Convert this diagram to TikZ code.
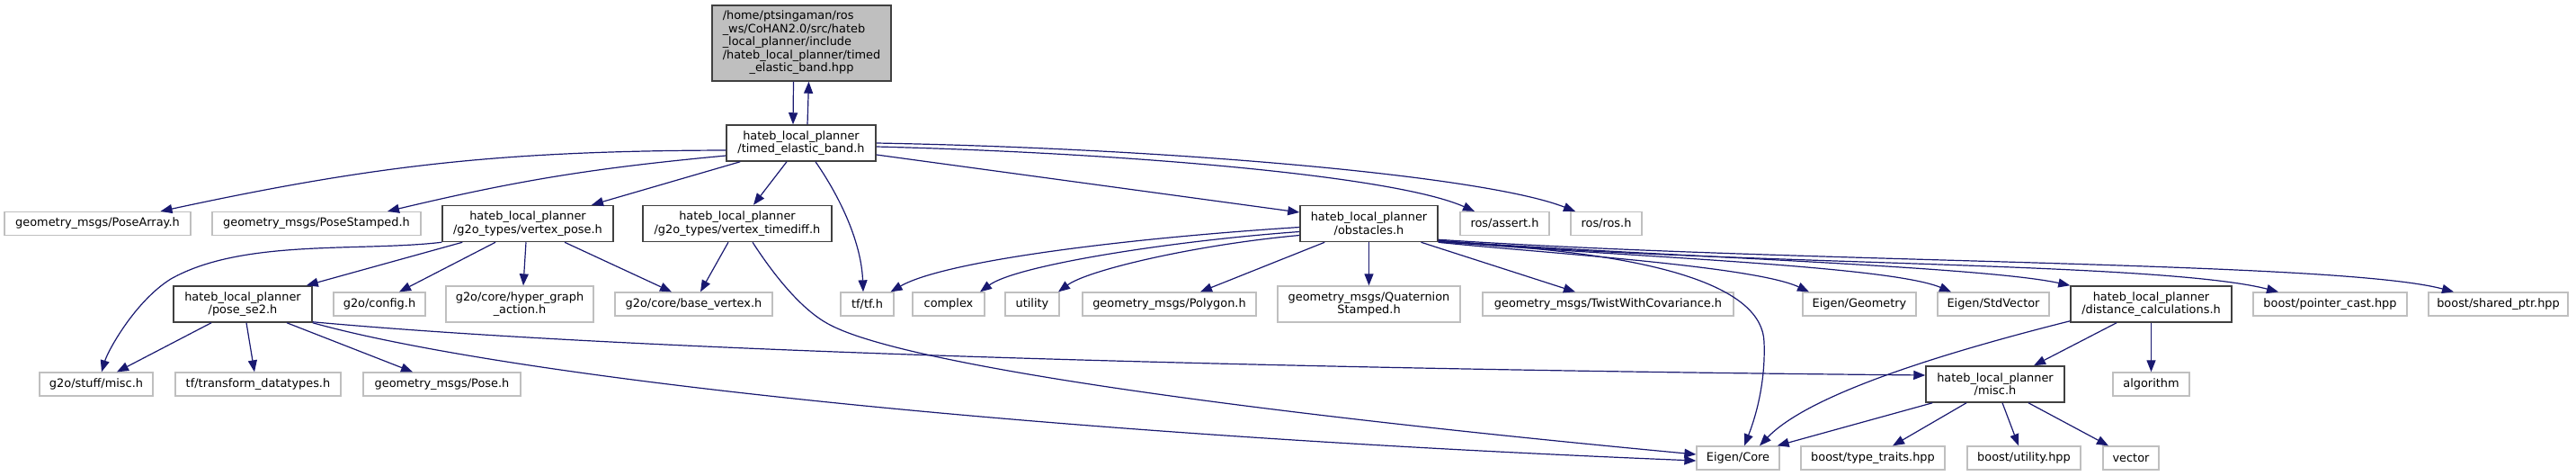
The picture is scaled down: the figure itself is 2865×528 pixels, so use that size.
\documentclass[tikz,border=0pt]{standalone}
\usepackage{fontspec}
\setmainfont{DejaVu Sans}
\usetikzlibrary{arrows.meta}

\definecolor{boxgray}{HTML}{BFBFBF}
\definecolor{boxdark}{HTML}{404040}
\definecolor{edgeblue}{HTML}{191970}

\begin{document}
\begin{tikzpicture}[x=1pt, y=-1pt,
  font=\fontsize{12.9}{14.5}\selectfont,
  extfile/.style={draw=boxgray, line width=1.3pt, rectangle, inner sep=0pt, align=center, minimum height=26pt},
  ownfile/.style={draw=boxdark, line width=1.5pt, rectangle, inner sep=0pt, align=center, minimum height=40pt},
  rootfile/.style={ownfile, fill=boxgray},
  dep/.style={draw=edgeblue, line width=1.2pt, -{Triangle[length=13pt, width=10pt]}}]

\useasboundingbox (0,0) rectangle (2865,528);

% ranks 0 and 1
\node[rootfile, minimum width=199pt, minimum height=84pt] (top) at (891.5,48) {\begin{tabular}{@{}l@{}}/home/ptsingaman/ros\\\_ws/CoHAN2.0/src/hateb\\\_local\_planner/include\\/hateb\_local\_planner/timed\\\multicolumn{1}{@{}c@{}}{\_elastic\_band.hpp}\end{tabular}};
\node[ownfile, minimum width=166pt] (tel) at (891,159) {hateb\_local\_planner\\/timed\_elastic\_band.h};

% rank 2
\node[extfile, minimum width=207pt] (posearray) at (108.5,248.5) {geometry\_msgs/PoseArray.h};
\node[extfile, minimum width=232pt] (posestamped) at (352,248.5) {geometry\_msgs/PoseStamped.h};
\node[ownfile, minimum width=190pt] (vpose) at (587,248.5) {hateb\_local\_planner\\/g2o\_types/vertex\_pose.h};
\node[ownfile, minimum width=210pt] (vtimediff) at (820,248.5) {hateb\_local\_planner\\/g2o\_types/vertex\_timediff.h};
\node[ownfile, minimum width=153pt] (obst) at (1522.5,248.5) {hateb\_local\_planner\\/obstacles.h};
\node[extfile, minimum width=99pt] (rosassert) at (1673.5,248.5) {ros/assert.h};
\node[extfile, minimum width=79pt] (rosros) at (1786.5,248.5) {ros/ros.h};

% rank 3
\node[ownfile, minimum width=154pt] (posese) at (270,338) {hateb\_local\_planner\\/pose\_se2.h};
\node[extfile, minimum width=102pt] (config) at (422,338) {g2o/config.h};
\node[extfile, minimum width=164pt, minimum height=40pt] (hyper) at (578,338) {g2o/core/hyper\_graph\\\_action.h};
\node[extfile, minimum width=175pt] (basevertex) at (771.5,338) {g2o/core/base\_vertex.h};
\node[extfile, minimum width=59pt] (tftf) at (964.5,338) {tf/tf.h};
\node[extfile, minimum width=80pt] (complex) at (1055,338) {complex};
\node[extfile, minimum width=60pt] (utility) at (1148,338) {utility};
\node[extfile, minimum width=193pt] (polygon) at (1300.5,338) {geometry\_msgs/Polygon.h};
\node[extfile, minimum width=203pt, minimum height=40pt] (quat) at (1522.5,338) {geometry\_msgs/Quaternion\\Stamped.h};
\node[extfile, minimum width=279pt] (twist) at (1788.5,338) {geometry\_msgs/TwistWithCovariance.h};
\node[extfile, minimum width=126pt] (geometry) at (2068,338) {Eigen/Geometry};
\node[extfile, minimum width=124pt] (stdvector) at (2217,338) {Eigen/StdVector};
\node[ownfile, minimum width=179pt] (distcalc) at (2392.5,338) {hateb\_local\_planner\\/distance\_calculations.h};
\node[extfile, minimum width=171pt] (pointercast) at (2591.5,338) {boost/pointer\_cast.hpp};
\node[extfile, minimum width=155pt] (sharedptr) at (2778.5,338) {boost/shared\_ptr.hpp};

% rank 4
\node[extfile, minimum width=126pt] (gmisc) at (107,427) {g2o/stuff/misc.h};
\node[extfile, minimum width=184pt] (transform) at (287,427) {tf/transform\_datatypes.h};
\node[extfile, minimum width=175pt] (pose) at (491.5,427) {geometry\_msgs/Pose.h};
\node[ownfile, minimum width=154pt] (misc) at (2219,427) {hateb\_local\_planner\\/misc.h};
\node[extfile, minimum width=85pt] (algorithm) at (2392.5,427) {algorithm};

% rank 5
\node[extfile, minimum width=92pt] (eigencore) at (1933,509) {Eigen/Core};
\node[extfile, minimum width=160pt] (typetraits) at (2083,509) {boost/type\_traits.hpp};
\node[extfile, minimum width=126pt] (utilityhpp) at (2251,509) {boost/utility.hpp};
\node[extfile, minimum width=62pt] (vector) at (2370,509) {vector};

% timed_elastic_band
\draw[dep] ([xshift=-9pt]top.south) -- ([xshift=-9pt]tel.north);
\draw[dep] ([xshift=7pt]tel.north) -- ([xshift=8pt]top.south);
\draw[dep] ([yshift=-8pt]tel.west) to[bend right=6] ([xshift=70pt]posearray.north);
\draw[dep] ([yshift=-14pt]tel.west) to[bend right=4] ([xshift=79pt]posestamped.north);
\draw[dep] ([xshift=16pt]tel.south west) -- ([xshift=71pt]vpose.north);
\draw[dep] ([xshift=-16pt]tel.south) -- ([xshift=18pt]vtimediff.north);
\draw[dep] ([xshift=16pt]tel.south) .. controls (935,220) and (958,270) .. ([xshift=-4.5pt]tftf.north);
\draw[dep] ([yshift=-13pt]tel.east) -- ([yshift=12.5pt]obst.west);
\draw[dep] ([yshift=-4pt]tel.east) .. controls (1250,170) and (1550,195) .. ([xshift=-33.5pt]rosassert.north);
\draw[dep] ([yshift=0pt]tel.east) .. controls (1300,165) and (1650,195) .. ([xshift=-34.5pt]rosros.north);

% obstacles
\draw[dep] ([yshift=-4pt]obst.west) .. controls (1250,265) and (1050,290) .. ([xshift=26pt]tftf.north);
\draw[dep] ([yshift=-9pt]obst.west) .. controls (1300,268) and (1130,295) .. ([xshift=35pt]complex.north);
\draw[dep] ([yshift=-13pt]obst.west) .. controls (1330,272) and (1210,300) .. ([xshift=29pt]utility.north);
\draw[dep] ([xshift=28pt]obst.south west) -- ([xshift=34.5pt]polygon.north);
\draw[dep] (obst.south) -- (quat.north);
\draw[dep] ([xshift=58pt]obst.south) -- ([xshift=-36.5pt]twist.north);
\draw[dep] (obst.south east) .. controls (1700,280) and (1950,295) .. ([xshift=-56pt]geometry.north);
\draw[dep] ([yshift=1pt]obst.south east) .. controls (1800,285) and (2100,295) .. ([xshift=-47pt]stdvector.north);
\draw[dep] ([yshift=2pt]obst.south east) .. controls (1800,283) and (2200,295) .. (distcalc.north west);
\draw[dep] ([yshift=2pt]obst.south east) .. controls (1900,295) and (2400,290) .. ([xshift=-57.5pt]pointercast.north);
\draw[dep] ([yshift=3pt]obst.south east) .. controls (2000,293) and (2600,290) .. ([xshift=-49.5pt]sharedptr.north);
\draw[dep] (obst.south east) .. controls (1850,280) and (1960,320) .. (1962,380) .. controls (1964,430) and (1950,470) .. ([xshift=7pt]eigencore.north);

% vertex_pose and vertex_timediff
\draw[dep] (vpose.south west) .. controls (400,280) and (270,265) .. (190,310) .. controls (150,335) and (120,390) .. ([xshift=6pt]gmisc.north);
\draw[dep] ([xshift=23pt]vpose.south west) -- ([xshift=-7pt]posese.north east);
\draw[dep] ([xshift=-36pt]vpose.south) -- ([xshift=22pt]config.north);
\draw[dep] ([xshift=-2pt]vpose.south) -- ([xshift=4pt]hyper.north);
\draw[dep] ([xshift=41pt]vpose.south) -- ([xshift=-24.5pt]basevertex.north);
\draw[dep] ([xshift=-10pt]vtimediff.south) -- ([xshift=7.5pt]basevertex.north);
\draw[dep] ([xshift=17pt]vtimediff.south) .. controls (870,320) and (900,350) .. (925,362) .. controls (1000,400) and (1300,450) .. ([yshift=4pt]eigencore.west);

% pose_se2
\draw[dep] ([xshift=-35pt]posese.south) -- ([xshift=23pt]gmisc.north);
\draw[dep] ([xshift=4pt]posese.south) -- ([xshift=-4pt]transform.north);
\draw[dep] ([xshift=49pt]posese.south) -- ([xshift=-32.5pt]pose.north);
\draw[dep] ([yshift=1pt]posese.south east) .. controls (700,390) and (1400,410) .. ([yshift=10pt]misc.west);
\draw[dep] (posese.south east) .. controls (550,415) and (1100,480) .. ([yshift=-3pt]eigencore.west);

% distance_calculations and misc
\draw[dep] ([yshift=2pt]distcalc.south west) .. controls (2150,395) and (2010,440) .. ([xshift=24pt]eigencore.north);
\draw[dep] ([xshift=-38.5pt]distcalc.south) -- ([xshift=43pt]misc.north);
\draw[dep] (distcalc.south) -- (algorithm.north);
\draw[dep] ([xshift=8pt]misc.south west) -- ([xshift=-3pt]eigencore.north east);
\draw[dep] ([xshift=-32pt]misc.south) -- ([xshift=22pt]typetraits.north);
\draw[dep] ([xshift=8pt]misc.south) -- ([xshift=-6pt]utilityhpp.north);
\draw[dep] ([xshift=37pt]misc.south) -- ([xshift=-25pt]vector.north);

\end{tikzpicture}
\end{document}
